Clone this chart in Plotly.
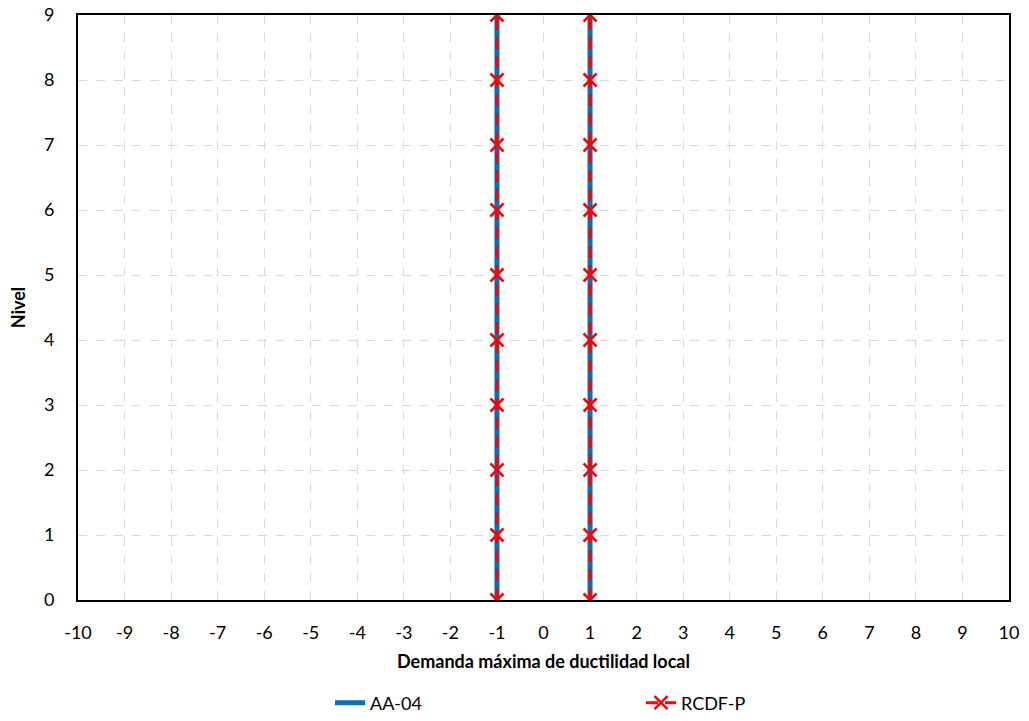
import plotly.graph_objects as go

levels = [0, 1, 2, 3, 4, 5, 6, 7, 8, 9]
aa04_left = [-1, -1, -1, -1, -1, -1, -1, -1, -1, -1]
aa04_right = [1, 1, 1, 1, 1, 1, 1, 1, 1, 1]
rcdf_left = [-1, -1, -1, -1, -1, -1, -1, -1, -1, -1]
rcdf_right = [1, 1, 1, 1, 1, 1, 1, 1, 1, 1]
x_ticks = list(range(-10, 11))
y_ticks = list(range(0, 10))

font = "Lato, 'Open Sans', sans-serif"
W, H = 1029, 721

fig = go.Figure()
fig.add_trace(go.Scatter(
    x=aa04_left + [None] + aa04_right,
    y=levels + [None] + levels,
    mode="lines", name="AA-04",
    line=dict(color="#0070C0", width=5),
))
fig.add_trace(go.Scatter(
    x=rcdf_left + [None] + rcdf_right,
    y=levels + [None] + levels,
    mode="lines+markers", name="RCDF-P",
    line=dict(color="#FF0000", width=3, dash="12px,7px"),
    marker=dict(symbol="x-thin", size=13, line=dict(color="#FF0000", width=2.5), color="#FF0000"),
))

fig.update_layout(
    width=W, height=H,
    margin=dict(l=78, r=20, t=15, b=121, autoexpand=False),
    paper_bgcolor="white", plot_bgcolor="white",
    font=dict(family=font, size=18, color="black"),
    showlegend=True,
    legend=dict(orientation="h", xref="container", yref="container",
                x=330 / W, xanchor="left", y=18 / H, yanchor="middle",
                font=dict(size=18), traceorder="normal",
                entrywidth=266, entrywidthmode="pixels"),
    xaxis=dict(
        range=[-10, 10], tickvals=x_ticks, ticktext=[str(v) for v in x_ticks],
        showgrid=True, gridcolor="#D9D9D9", griddash="dash", gridwidth=1,
        showline=True, linecolor="black", linewidth=2, mirror=True,
        zeroline=False, ticks="", ticklabelstandoff=15, automargin=False,
        ticklabeloverflow="allow",
        title=dict(text="<b>Demanda máxima de ductilidad local</b>", font=dict(size=18), standoff=14),
    ),
    yaxis=dict(
        range=[0, 9], tickvals=y_ticks,
        showgrid=True, gridcolor="#D9D9D9", griddash="dash", gridwidth=1,
        showline=True, linecolor="black", linewidth=2, mirror=True,
        zeroline=False, ticks="", ticklabelstandoff=18, automargin=False,
        ticklabeloverflow="allow",
        title=dict(text="<b>Nivel</b>", font=dict(size=18), standoff=14),
    ),
)

fig.write_html("out.html",
               config={"displayModeBar": False},
               post_script="document.body.style.margin='0';document.body.style.overflow='hidden';")
